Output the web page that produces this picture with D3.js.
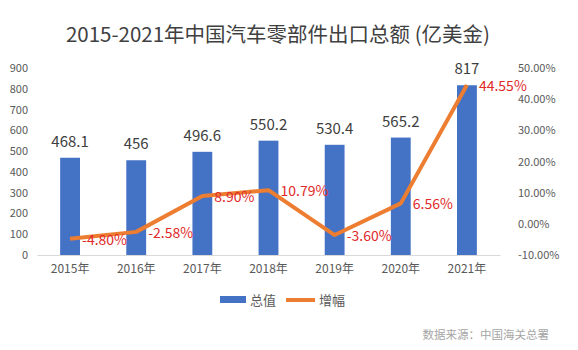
<!DOCTYPE html>
<html>
<head>
<meta charset="utf-8">
<script src="https://cdn.jsdelivr.net/npm/d3@7"></script>
<style>
  body { margin: 0; background: #fff; font-family: "Noto Sans CJK SC", "Noto Sans", sans-serif; }
  .axis text { fill: #595959; font-size: 11px; font-family: "Noto Sans CJK SC", "Noto Sans", sans-serif; }
</style>
</head>
<body>
<div class="interactive-wrapper"></div>
<script>
const years = ['2015年', '2016年', '2017年', '2018年', '2019年', '2020年', '2021年'];
const totals = [468.1, 456, 496.6, 550.2, 530.4, 565.2, 817];
const growth = [-4.80, -2.58, 8.90, 10.79, -3.60, 6.56, 44.55];
const leftTicks = [0, 100, 200, 300, 400, 500, 600, 700, 800, 900];
const rightTicks = [-10, 0, 10, 20, 30, 40, 50];

const w = 578, h = 350;
const svg = d3.select('.interactive-wrapper').append('svg')
  .attr('width', w).attr('height', h);

const xScale = d3.scaleBand().domain(years).range([37, 500]).paddingInner(0.7).paddingOuter(0.35);
const yScale = d3.scaleLinear().domain([0, 900]).range([255, 68]);
const yScale2 = d3.scaleLinear().domain([-10, 50]).range([255, 68]);
const cx = d => xScale(d) + xScale.bandwidth() / 2;

// title
svg.append('text')
  .attr('x', 278).attr('y', 42)
  .attr('text-anchor', 'middle')
  .style('font-size', '20.5px').style('fill', '#404040')
  .text('2015-2021年中国汽车零部件出口总额 (亿美金)');

// left axis
svg.append('g').attr('class', 'axis')
  .attr('transform', 'translate(28,0)')
  .call(d3.axisLeft(yScale).tickValues(leftTicks).tickSize(0).tickPadding(0))
  .call(g => g.select('.domain').remove());

// right axis
svg.append('g').attr('class', 'axis')
  .attr('transform', 'translate(518,0)')
  .call(d3.axisRight(yScale2).tickValues(rightTicks).tickSize(0).tickPadding(0)
    .tickFormat(d => d.toFixed(2) + '%'))
  .call(g => g.select('.domain').remove());

// x axis
svg.append('g').attr('class', 'axis')
  .attr('transform', 'translate(0,255)')
  .call(d3.axisBottom(xScale).tickSize(0).tickPadding(9))
  .call(g => g.select('.domain').attr('stroke', '#d9d9d9'))
  .selectAll('text').style('font-size', '12px');

// bars
svg.selectAll('.bar').data(totals).enter().append('rect')
  .attr('class', 'bar')
  .attr('x', (d, i) => xScale(years[i]))
  .attr('y', d => yScale(d))
  .attr('width', xScale.bandwidth())
  .attr('height', d => yScale(0) - yScale(d))
  .attr('fill', '#4472c4');

svg.selectAll('.bar-label').data(totals).enter().append('text')
  .attr('class', 'bar-label')
  .attr('x', (d, i) => cx(years[i]))
  .attr('y', d => yScale(d) - 11)
  .attr('text-anchor', 'middle')
  .style('font-size', '15px').style('fill', '#404040')
  .text(d => d);

// growth line
const line = d3.line()
  .x((d, i) => cx(years[i]))
  .y(d => yScale2(d));

svg.append('path').datum(growth)
  .attr('d', line)
  .attr('fill', 'none')
  .attr('stroke', '#ed7d31')
  .attr('stroke-width', 4)
  .attr('stroke-linejoin', 'round');

svg.selectAll('.growth-label').data(growth).enter().append('text')
  .attr('class', 'growth-label')
  .attr('x', (d, i) => cx(years[i]) + 12)
  .attr('y', d => yScale2(d) + 6)
  .style('font-size', '14px').style('fill', '#e02a2a')
  .text(d => d.toFixed(2) + '%');

// legend
const legend = svg.append('g').attr('transform', 'translate(0,300)');
legend.append('rect').attr('x', 220).attr('y', -4).attr('width', 26).attr('height', 7).attr('fill', '#4472c4');
legend.append('text').attr('x', 250).attr('y', 5).style('font-size', '13px').style('fill', '#595959').text('总值');
legend.append('line').attr('x1', 286).attr('x2', 315).attr('y1', 0).attr('y2', 0)
  .attr('stroke', '#ed7d31').attr('stroke-width', 4);
legend.append('text').attr('x', 319).attr('y', 5).style('font-size', '13px').style('fill', '#595959').text('增幅');

// source
svg.append('text')
  .attr('x', 549).attr('y', 339)
  .attr('text-anchor', 'end')
  .style('font-size', '11.5px').style('fill', '#a6a6a6')
  .text('数据来源：中国海关总署');
</script>
</body>
</html>
